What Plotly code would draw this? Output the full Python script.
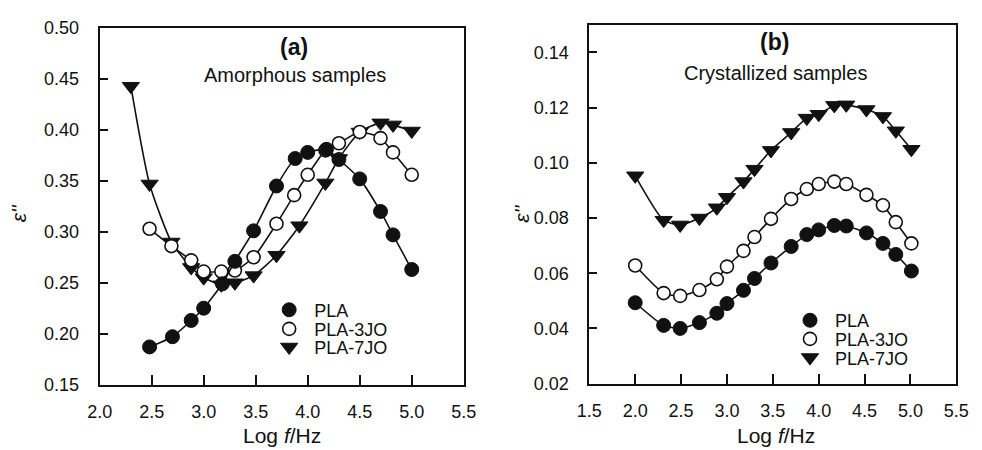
import plotly.graph_objects as go

# ---------------- data: panel (a) amorphous ----------------
xa_pla = [2.48, 2.70, 2.88, 3.00, 3.18, 3.30, 3.48, 3.70, 3.88, 4.00, 4.18, 4.30, 4.50, 4.70, 4.82, 5.00]
ya_pla = [0.187, 0.197, 0.213, 0.225, 0.249, 0.271, 0.301, 0.345, 0.372, 0.378, 0.381, 0.371, 0.352, 0.320, 0.297, 0.263]

xa_3jo = [2.48, 2.69, 2.88, 3.00, 3.17, 3.30, 3.48, 3.70, 3.87, 4.00, 4.17, 4.30, 4.50, 4.70, 4.82, 5.00]
ya_3jo = [0.303, 0.286, 0.272, 0.261, 0.261, 0.262, 0.275, 0.308, 0.336, 0.356, 0.380, 0.387, 0.398, 0.392, 0.378, 0.356]

xa_7jo = [2.30, 2.48, 2.69, 2.88, 3.00, 3.17, 3.30, 3.48, 3.70, 3.92, 4.17, 4.30, 4.50, 4.70, 4.82, 5.00]
ya_7jo = [0.443, 0.347, 0.290, 0.265, 0.255, 0.248, 0.250, 0.257, 0.277, 0.306, 0.348, 0.372, 0.398, 0.407, 0.405, 0.399]

# ---------------- data: panel (b) crystallized ----------------
xb = [2.00, 2.31, 2.49, 2.70, 2.89, 3.00, 3.18, 3.30, 3.48, 3.70, 3.87, 4.00, 4.17, 4.30, 4.52, 4.70, 4.84, 5.01]
yb_pla = [0.0493, 0.0411, 0.0400, 0.0421, 0.0455, 0.0490, 0.0538, 0.0581, 0.0637, 0.0697, 0.0740, 0.0757,
          0.0773, 0.0771, 0.0746, 0.0708, 0.0668, 0.0608]
yb_3jo = [0.0628, 0.0528, 0.0518, 0.0539, 0.0578, 0.0624, 0.0681, 0.0731, 0.0797, 0.0869, 0.0905, 0.0923,
          0.0932, 0.0923, 0.0884, 0.0846, 0.0785, 0.0708]
yb_7jo = [0.0953, 0.0792, 0.0775, 0.0800, 0.0837, 0.0875, 0.0932, 0.0977, 0.1045, 0.1110, 0.1162, 0.1176,
          0.1208, 0.1210, 0.1193, 0.1168, 0.1116, 0.1049]

series_names = ["PLA", "PLA-3JO", "PLA-7JO"]

FONT = "Liberation Sans, Arial, Helvetica, sans-serif"
BLACK = "#111111"

styles = {
    "PLA": dict(symbol="circle", size=14, color=BLACK, line=dict(color=BLACK, width=1)),
    "PLA-3JO": dict(symbol="circle", size=13, color="white", line=dict(color=BLACK, width=1.6)),
    "PLA-7JO": dict(symbol="triangle-down", size=15, color=BLACK, line=dict(color=BLACK, width=1)),
}

W, H = 982, 450
def px(x):
    return x / W
def py(y):
    return 1 - y / H

fig = go.Figure()

def add_series(x, y, name, xaxis, yaxis):
    fig.add_trace(go.Scatter(
        x=x, y=y, mode="lines+markers", name=name, showlegend=False,
        line=dict(color=BLACK, width=1.6, shape="spline", smoothing=0.6),
        marker=styles[name], xaxis=xaxis, yaxis=yaxis, cliponaxis=False))

add_series(xa_7jo, ya_7jo, "PLA-7JO", "x", "y")
add_series(xa_3jo, ya_3jo, "PLA-3JO", "x", "y")
add_series(xa_pla, ya_pla, "PLA", "x", "y")

add_series(xb, yb_7jo, "PLA-7JO", "x2", "y2")
add_series(xb, yb_3jo, "PLA-3JO", "x2", "y2")
add_series(xb, yb_pla, "PLA", "x2", "y2")

# legend entries (markers only), one small legend per row so the rows sit close together
legend_rows = {
    "a": dict(left=258, rows=[314, 334, 353]),
    "b": dict(left=793, rows=[325, 344.5, 364]),
}
legend_layout = {}
k = 1
for panel, xa, ya in [("a", "x", "y"), ("b", "x2", "y2")]:
    for name, ycen in zip(series_names, legend_rows[panel]["rows"]):
        lname = "legend" if k == 1 else f"legend{k}"
        fig.add_trace(go.Scatter(x=[None], y=[None], mode="markers", name=name,
                                 marker=styles[name], legend=lname, xaxis=xa, yaxis=ya,
                                 showlegend=True))
        legend_layout[lname] = dict(x=px(legend_rows[panel]["left"]), y=py(ycen),
                                    xanchor="left", yanchor="middle",
                                    bgcolor="rgba(0,0,0,0)", borderwidth=0,
                                    font=dict(family=FONT, size=18, color=BLACK),
                                    itemwidth=40)
        k += 1

axis_common = dict(showline=True, linewidth=1.8, linecolor=BLACK, mirror=True,
                   ticks="inside", tickcolor=BLACK, tickwidth=1.5,
                   showgrid=False, zeroline=False,
                   tickfont=dict(family=FONT, size=18, color=BLACK))

fig.update_layout(
    width=W, height=H, margin=dict(l=0, r=0, t=0, b=0),
    paper_bgcolor="white", plot_bgcolor="white",
    font=dict(family=FONT, color=BLACK),
    xaxis=dict(domain=[px(89), px(463)], range=[2.0, 5.5], dtick=0.5, tick0=2.0,
               tickformat=".1f", ticklen=10, ticklabelstandoff=10, anchor="y", **axis_common),
    yaxis=dict(domain=[py(392), py(19)], range=[0.15, 0.50], dtick=0.05, tick0=0.15,
               tickformat=".2f", ticklen=8, ticklabelstandoff=15, anchor="x", **axis_common),
    xaxis2=dict(domain=[px(592), px(969)], range=[1.5, 5.5], dtick=0.5, tick0=1.5,
                tickformat=".1f", ticklen=10, ticklabelstandoff=10, anchor="y2", **axis_common),
    yaxis2=dict(domain=[py(391), py(15.5)], range=[0.02, 0.15], dtick=0.02, tick0=0.02,
                tickformat=".2f", ticklen=8, ticklabelstandoff=15, anchor="x2", **axis_common),
    **legend_layout,
)

ann = []
def text(x, y, t, size, angle=0, xanchor="center"):
    ann.append(dict(x=px(x), y=py(y), xref="paper", yref="paper", text=t, showarrow=False,
                    xanchor=xanchor, yanchor="middle", textangle=angle,
                    font=dict(family=FONT, size=size, color=BLACK)))

text(289, 39, "<b>(a)</b>", 23)
text(290, 68, "Amorphous samples", 20)
text(782, 34, "<b>(b)</b>", 23)
text(783, 66, "Crystallized samples", 20)
text(276, 445, "Log <i>f</i>/Hz", 21)
text(784, 445, "Log <i>f</i>/Hz", 21)
text(6, 213, "<i>ε''</i>", 21, angle=-90)
text(522, 213, "<i>ε''</i>", 21, angle=-90)
fig.update_layout(annotations=ann)

fig.write_html("out.html")
